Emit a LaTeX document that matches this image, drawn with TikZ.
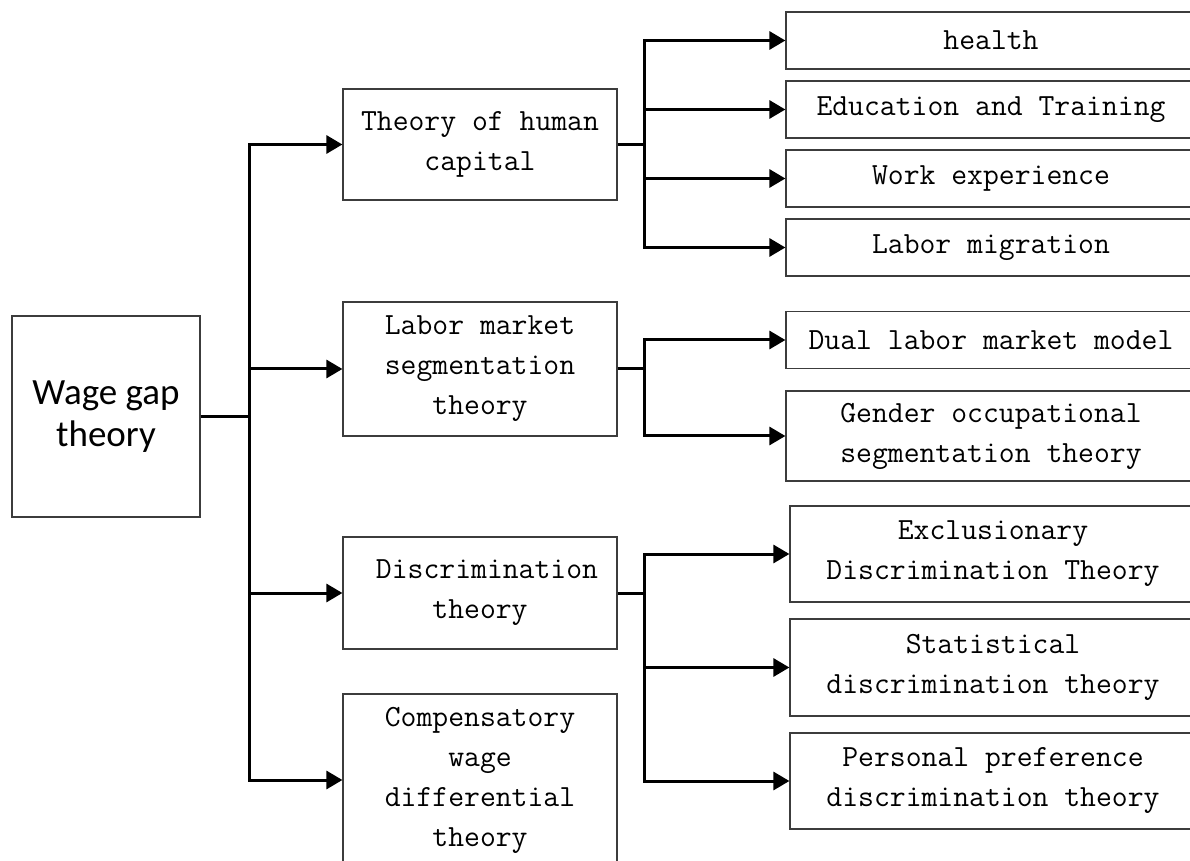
\documentclass[tikz,border=0pt]{standalone}
\usepackage{fontspec}
\usepackage{xcolor}
\usepackage{tikz}
\usetikzlibrary{arrows.meta}
\newfontfamily\rootfont{Carlito}
\definecolor{boxGray}{HTML}{3C3C3C}

\begin{document}
\begin{tikzpicture}[x=0.5pt, y=-0.5pt,
    box/.style={draw=boxGray, line width=0.6pt, align=center, inner sep=0pt,
      font=\fontsize{15.4}{20}\selectfont\ttfamily},
    mid/.style={box, minimum width=137pt},
    leaf/.style={box, minimum width=205pt, minimum height=28.5pt},
    line/.style={line width=1.5pt, black},
    arr/.style={line, -{Triangle[length=8pt, width=9pt]}}]
    \useasboundingbox (0,0) rectangle (1190,861);
    % root and first level
    \node[box, minimum width=94pt, minimum height=100.5pt,
      font=\fontsize{18.5}{21}\selectfont\rootfont] (root) at (106,416.5) {Wage gap\\theory};
    \node[mid, minimum height=55.5pt] (hc) at (480,144.5) {Theory of human\\capital};
    \node[mid, minimum height=67pt] (seg) at (480,369) {Labor market\\segmentation\\theory};
    \node[mid, minimum height=56pt] (disc) at (480,593) {\hspace{7pt}Discrimination\\theory};
    \node[mid, minimum height=86pt] (comp) at (480,780) {Compensatory\\wage\\differential\\theory};
    % second level
    \node[leaf] (health) at (991,40.5) {health};
    \node[leaf] (edu) at (991,109.5) {Education and Training};
    \node[leaf] (work) at (991,178.5) {Work experience};
    \node[leaf] (mig) at (991,247.5) {Labor migration};
    \node[leaf] (dual) at (991,340) {Dual labor market model};
    \node[leaf, minimum height=45pt] (gender) at (991,436) {Gender occupational\\segmentation theory};
    \node[leaf, minimum width=203pt, minimum height=48pt] (excl) at (993,554) {Exclusionary\\Discrimination Theory};
    \node[leaf, minimum width=203pt, minimum height=48.5pt] (stat) at (993,667.5) {Statistical\\discrimination theory};
    \node[leaf, minimum width=203pt, minimum height=48pt] (pers) at (993,781) {Personal preference\\discrimination theory};
    % junctions
    \coordinate (j0) at (249,416.5);
    \coordinate (j1) at (644,144.5);
    \coordinate (j2) at (644,369);
    \coordinate (j3) at (644,593);
    % connectors
    \draw[line](root.east)--(j0);
    \draw[arr](j0)|-(hc.west);\draw[arr](j0)|-(comp.west);
    \draw[arr](j0|-seg.west)--(seg.west);\draw[arr](j0|-disc.west)--(disc.west);
    \draw[arr](hc.east)--(j1)|-(health.west);\draw[arr](j1)|-(mig.west);
    \draw[arr](j1|-edu.west)--(edu.west);\draw[arr](j1|-work.west)--(work.west);
    \draw[arr](seg.east)--(j2)|-(dual.west);\draw[arr](j2)|-(gender.west);
    \draw[arr](disc.east)--(j3)|-(excl.west);\draw[arr](j3)|-(pers.west);
    \draw[arr](j3|-stat.west)--(stat.west);
  \end{tikzpicture}
\end{document}
